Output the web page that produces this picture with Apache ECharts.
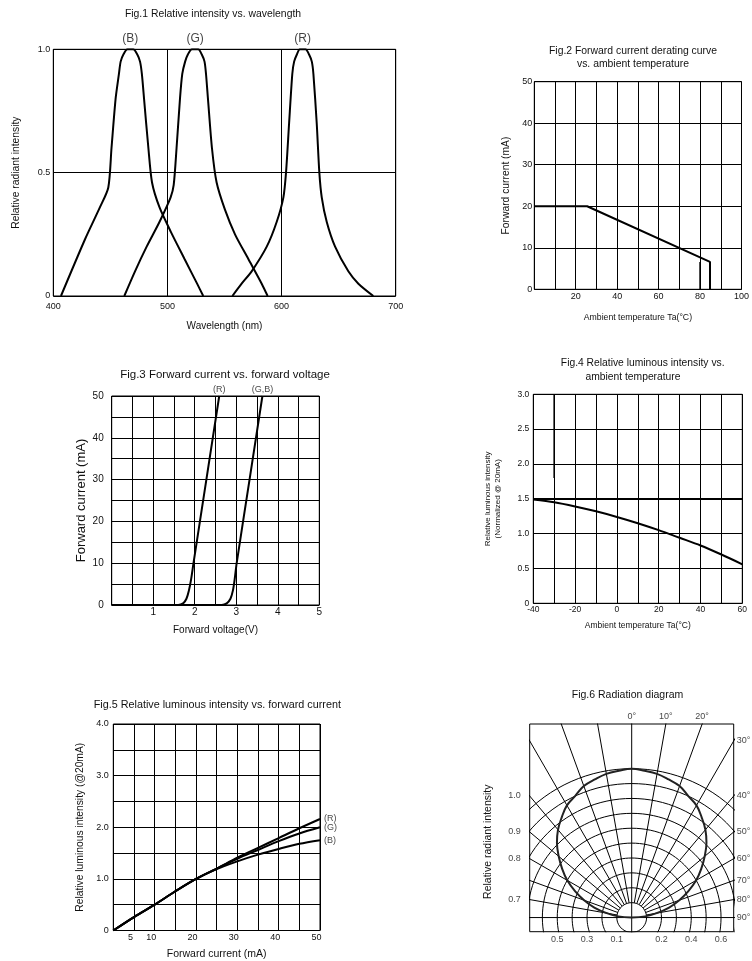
<!DOCTYPE html>
<html>
<head>
<meta charset="utf-8">
<title>LED characteristic curves</title>
<script src="https://cdn.jsdelivr.net/npm/echarts@6/dist/echarts.min.js"></script>
<style>
    html, body { margin: 0; padding: 0; background: #fff; }
    #main { width: 752px; height: 961px; }
</style>
</head>
<body>
<div id="main"></div>
<script>
    var FONT = '"Liberation Sans", Arial, Helvetica, sans-serif';
    var INK = '#111';

    // Fig.1 relative intensity vs wavelength  [nm, rel]
    var f1XTicks = ['400', '500', '600', '700'];
    var f1YTicks = ['0', '0.5', '1.0'];
    var f1Blue = [[406.7,0],[427.8,0.23],[440.9,0.36],[448.2,0.44],[451,0.6],[454.6,0.8],[457.5,0.9],[459,0.95],
        [461.5,0.98],[465,1.0],[470,1.0],[473.5,0.98],[476,0.95],[477.6,0.9],[479.5,0.8],[483.3,0.6],[486.5,0.46],
        [493,0.36],[503,0.26],[515,0.15],[526,0.05],[531.4,0]];
    var f1Green = [[462.2,0],[471.6,0.1],[481.8,0.2],[493,0.3],[502.8,0.4],[505.5,0.45],[508,0.6],[511,0.8],
        [513,0.9],[515.5,0.95],[518,0.98],[521.5,1.0],[527,1.0],[530,0.98],[532.5,0.95],[533.8,0.9],[535.5,0.8],[539,0.6],
        [543.1,0.46],[550.4,0.35],[559.2,0.25],[570.9,0.15],[582.6,0.05],[587.8,0]];
    var f1Red = [[556.9,0],[565,0.05],[573.8,0.1],[587,0.2],[595.7,0.3],[601.6,0.4],[603.9,0.5],[606.6,0.7],
        [609.4,0.9],[611,0.95],[613.5,0.98],[616,1.0],[621,1.0],[624,0.98],[626.5,0.95],[627.9,0.9],[630.8,0.7],
        [633.1,0.5],[635.2,0.4],[639.6,0.3],[646.9,0.2],[658.5,0.1],[667.3,0.05],[680.4,0]];
    var f1Names = ['(B)', '(G)', '(R)'];

    // Fig.2 derating  [degC, mA]
    var f2XTicks = ['20', '40', '60', '80', '100'];
    var f2YTicks = ['0', '10', '20', '30', '40', '50'];
    var f2Derating = [[0,20],[25.5,20],[84.8,6.6],[84.8,0]];
    var f2Limit = [[80,0],[80,6.6]];

    // Fig.3 forward current vs voltage  [V, mA]
    var f3XTicks = ['1', '2', '3', '4', '5'];
    var f3YTicks = ['0', '10', '20', '30', '40', '50'];
    var f3Red = [[0,0],[1.6,0],[1.72,0.4],[1.8,1.5],[1.86,3.5],[1.91,6],[1.97,10],[2.28,30],[2.59,50]];
    var f3GB = [[0,0],[2.65,0],[2.77,0.4],[2.86,1.5],[2.92,3.5],[2.96,6],[3.01,10],[3.32,30],[3.63,50]];
    var f3Names = ['(R)', '(G,B)'];

    // Fig.4 relative luminous intensity vs temperature
    var f4XTicks = ['-40', '-20', '0', '20', '40', '60'];
    var f4YTicks = ['0', '0.5', '1.0', '1.5', '2.0', '2.5', '3.0'];
    var f4Curve = [[-40,1.49],[-30,1.45],[-20,1.39],[-10,1.32],[0,1.24],[10,1.15],[20,1.05],[30,0.94],[40,0.83],[50,0.70],[60,0.56]];
    var f4Level = [[-40,1.5],[60,1.5]];
    var f4Marker = [[-30,1.8],[-30,3.0]];

    // Fig.5 relative luminous intensity vs forward current
    var f5XTicks = ['5', '10', '20', '30', '40', '50'];
    var f5YTicks = ['0', '1.0', '2.0', '3.0', '4.0'];
    var f5Current = [0, 5, 10, 15, 20, 25, 30, 35, 40, 45, 50];
    var f5Red   = [0, 0.26, 0.5, 0.76, 1.0, 1.2, 1.41, 1.6, 1.79, 1.98, 2.16];
    var f5Green = [0, 0.26, 0.5, 0.76, 1.0, 1.2, 1.39, 1.56, 1.73, 1.88, 2.0];
    var f5Blue  = [0, 0.26, 0.5, 0.76, 1.0, 1.19, 1.34, 1.47, 1.58, 1.68, 1.75];
    var f5Names = ['(R)', '(G)', '(B)'];

    // Fig.6 radiation diagram
    var f6Angles = [0, 5, 10, 15, 20, 25, 30, 35, 40, 45, 50, 55, 60, 65, 70, 75, 80, 85, 90];
    var f6Intensity = [1.0, 0.99, 0.98, 0.96, 0.94, 0.9, 0.87, 0.82, 0.77, 0.71, 0.64, 0.57, 0.5, 0.42, 0.34, 0.26, 0.17, 0.09, 0];
    var f6Rings = [0.1, 0.2, 0.3, 0.4, 0.5, 0.6, 0.7, 0.8, 0.9, 1.0];
    var f6Spokes = [-90, -80, -70, -60, -50, -40, -30, -20, -10, 0, 10, 20, 30, 40, 50, 60, 70, 80, 90];
    var f6AngleTicks = ['0°', '10°', '20°', '30°', '40°', '50°', '60°', '70°', '80°', '90°'];
    var f6AngleTickDeg = [0, 10, 20, 30, 40, 50, 60, 70, 80, 90];
    var f6LeftTicks = ['1.0', '0.9', '0.8', '0.7'];
    var f6LeftTickDeg = [-40, -50, -60, -80];
    var f6BottomTicks = ['0.5', '0.3', '0.1', '0.2', '0.4', '0.6'];

    // fig.6 box in intensity units
    var X6 = 0.685, Y6MIN = -0.095, Y6MAX = 1.3;

    function pairs(xs, ys) {
        return xs.map(function (x, i) { return [x, ys[i]]; });
    }
    function peak(d) {
        return d.reduce(function (a, b) { return b[1] > a[1] ? b : a; });
    }
    function mid(d) {
        // centre of the flat top
        var top = d.filter(function (p) { return p[1] === peak(d)[1]; });
        return [(top[0][0] + top[top.length - 1][0]) / 2, top[0][1]];
    }
    function last(d) { return d[d.length - 1]; }
    function toXY(deg, r) {
        var a = deg * Math.PI / 180;
        return [r * Math.sin(a), r * Math.cos(a)];
    }
    function edgePoint(deg) {
        var a = deg * Math.PI / 180, s = Math.sin(a), c = Math.cos(a), t = Infinity;
        if (c > 1e-9) t = Math.min(t, Y6MAX / c);
        if (Math.abs(s) > 1e-9) t = Math.min(t, X6 / Math.abs(s));
        return [t * s, t * c];
    }

    function pick(ticks) {
        return function (v) {
            for (var i = 0; i < ticks.length; i++) {
                if (Math.abs(parseFloat(ticks[i]) - v) < 1e-6) return ticks[i];
            }
            return '';
        };
    }

    function axis(gi, min, max, step, ticks, o) {
        return {
            type: 'value', gridIndex: gi, min: min, max: max, interval: step,
            axisLine: {show: false}, axisTick: {show: false},
            splitLine: {show: true, lineStyle: {color: '#000', width: 1}},
            axisLabel: {
                margin: o.margin, fontSize: o.size, color: INK, fontFamily: FONT,
                formatter: pick(ticks), padding: o.pad || 0
            },
            name: o.name, nameLocation: 'middle', nameGap: o.gap,
            nameTextStyle: {fontSize: o.nameSize, color: INK, fontFamily: FONT, lineHeight: o.lh || o.nameSize + 1}
        };
    }

    function line(gi, data, width, extra) {
        var s = {
            type: 'line', xAxisIndex: gi, yAxisIndex: gi, data: data,
            showSymbol: false, symbol: 'none', silent: true, z: 3,
            lineStyle: {color: '#000', width: width}
        };
        for (var k in extra) s[k] = extra[k];
        return s;
    }

    function labels(gi, points, texts, pos, dist, size) {
        return {
            type: 'scatter', xAxisIndex: gi, yAxisIndex: gi, symbolSize: 0, silent: true, clip: false, z: 5,
            data: points.map(function (p, i) {
                var position = typeof pos === 'function' ? pos(p) : pos;
                return {value: p, label: {show: true, formatter: texts[i], position: position, distance: dist}};
            }),
            label: {fontSize: size, color: INK, fontFamily: FONT}
        };
    }

    var gridBox = {show: true, borderColor: '#000', borderWidth: 1, backgroundColor: 'transparent', containLabel: false};
    function grid(l, t, w, h) {
        return Object.assign({left: l, top: t, width: w, height: h}, gridBox);
    }

    function title(text, x, y, size) {
        return {
            text: text, left: x, top: y, padding: 0, textAlign: 'center', textVerticalAlign: 'middle',
            textStyle: {fontSize: size, fontWeight: 'normal', color: INK, fontFamily: FONT, lineHeight: 13}
        };
    }

    // ---- fig.6 construction lines
    var f6Series = [];
    f6Rings.forEach(function (v) {
        var pts = [];
        for (var d = 0; d <= 360; d += 3) pts.push(toXY(d, v));
        f6Series.push(line(5, pts, 1, {z: 2}));
    });
    f6Spokes.forEach(function (deg) {
        var r0 = deg === 0 ? -0.2 : (Math.abs(deg) === 90 ? 0 : f6Rings[0]);
        f6Series.push(line(5, [toXY(deg, r0), toXY(deg, 2)], 1, {z: 2}));
    });
    var f6Pattern = [];
    for (var i = f6Angles.length - 1; i > 0; i--) f6Pattern.push(toXY(-f6Angles[i], f6Intensity[i]));
    for (var j = 0; j < f6Angles.length; j++) f6Pattern.push(toXY(f6Angles[j], f6Intensity[j]));
    f6Series.push(line(5, f6Pattern, 2, {smooth: 0.4, z: 4, lineStyle: {color: '#222', width: 2}}));

    var edgePos = function (p) {
        if (Math.abs(p[1] - Y6MAX) < 1e-6) return 'top';
        return p[0] > 0 ? 'right' : 'left';
    };
    f6Series.push(labels(5, f6AngleTickDeg.map(edgePoint), f6AngleTicks, edgePos, 3, 9));
    f6Series.push(labels(5, f6LeftTickDeg.map(edgePoint), f6LeftTicks, 'left', 9, 9));
    f6Series.push(labels(5, f6BottomTicks.map(function (t) {
        var v = parseFloat(t);
        var side = Math.round(v * 10) % 2 === 1 ? -1 : 1;
        return [side * v, Y6MIN];
    }), f6BottomTicks, 'bottom', 3, 9));

    var f5R = pairs(f5Current, f5Red), f5G = pairs(f5Current, f5Green), f5B = pairs(f5Current, f5Blue);

    var option = {
        backgroundColor: '#fff',
        animation: false,
        textStyle: {fontFamily: FONT},
        title: [
            title('Fig.1 Relative intensity vs. wavelength', 213, 14, 10.4),
            title('Fig.2 Forward current derating curve\nvs. ambient temperature', 633, 57.7, 10.4),
            title('Fig.3 Forward current vs. forward voltage', 225, 375, 11.5),
            title('Fig.4 Relative luminous intensity vs.', 642.7, 363.3, 10.3),
            title('ambient temperature', 633, 376.7, 10.3),
            title('Fig.5 Relative luminous intensity vs. forward current', 217.3, 705, 10.8),
            title('Fig.6 Radiation diagram', 627.5, 695, 10.5)
        ],
        grid: [
            grid(53.3, 49.3, 342.4, 246.7),
            grid(534.3, 81.7, 208, 207.6),
            grid(111.7, 396, 207.6, 209),
            grid(533.3, 394.3, 209, 209),
            grid(113.3, 724, 206.7, 207.7),
            grid(529.7, 724, 204, 207.7)
        ],
        xAxis: [
            axis(0, 400, 700, 100, f1XTicks, {margin: 6, size: 9, name: 'Wavelength (nm)', gap: 25, nameSize: 10}),
            axis(1, 0, 100, 10, f2XTicks, {margin: 3, size: 9, name: 'Ambient temperature Ta(°C)', gap: 23, nameSize: 8.7}),
            axis(2, 0, 5, 0.5, f3XTicks, {margin: 2, size: 10, name: 'Forward voltage(V)', gap: 20, nameSize: 10}),
            axis(3, -40, 60, 10, f4XTicks, {margin: 2, size: 8.5, name: 'Ambient temperature Ta(°C)', gap: 18, nameSize: 8.5}),
            axis(4, 0, 50, 5, f5XTicks, {margin: 3, size: 9, pad: [0, 7, 0, 0], name: 'Forward current (mA)', gap: 18, nameSize: 10.5}),
            {type: 'value', gridIndex: 5, min: -X6, max: X6, show: false}
        ],
        yAxis: [
            axis(0, 0, 1, 0.5, f1YTicks, {margin: 3, size: 9, name: 'Relative radiant intensity', gap: 31, nameSize: 10.3}),
            axis(1, 0, 50, 10, f2YTicks, {margin: 2, size: 9, name: 'Forward current (mA)', gap: 22, nameSize: 10.3}),
            axis(2, 0, 50, 5, f3YTicks, {margin: 8, size: 10, name: 'Forward current (mA)', gap: 22, nameSize: 13}),
            axis(3, 0, 3, 0.5, f4YTicks, {margin: 4, size: 8.5, name: 'Relative luminous intensity\n(Normalized @ 20mA)', gap: 31, nameSize: 8, lh: 10}),
            axis(4, 0, 4, 0.5, f5YTicks, {margin: 4.5, size: 9, name: 'Relative luminous intensity (@20mA)', gap: 27, nameSize: 10.3}),
            {type: 'value', gridIndex: 5, min: Y6MIN, max: Y6MAX, show: false}
        ],
        graphic: [
            {
                type: 'text', x: 488, y: 841.7, rotation: Math.PI / 2, silent: true,
                style: {text: 'Relative radiant intensity', font: '10.5px ' + FONT, fill: INK, align: 'center', verticalAlign: 'middle'}
            }
        ],
        series: [
            line(0, f1Blue, 2, {smooth: 0.25}),
            line(0, f1Green, 2, {smooth: 0.25}),
            line(0, f1Red, 2, {smooth: 0.25}),
            labels(0, [mid(f1Blue), mid(f1Green), mid(f1Red)], f1Names, 'top', 5, 12),

            line(1, f2Derating, 2),
            line(1, f2Limit, 1.5),

            line(2, f3Red, 2, {smooth: 0.3}),
            line(2, f3GB, 2, {smooth: 0.3}),
            labels(2, [last(f3Red), last(f3GB)], f3Names, 'top', 2, 9),

            line(3, f4Curve, 2, {smooth: 0.3}),
            line(3, f4Level, 1.8),
            line(3, f4Marker, 1.6),

            line(4, f5R, 2, {smooth: 0.3}),
            line(4, f5G, 2, {smooth: 0.3}),
            line(4, f5B, 2, {smooth: 0.3}),
            labels(4, [last(f5R), last(f5G), last(f5B)], f5Names, 'right', 4, 9)
        ].concat(f6Series)
    };

    var chart = echarts.init(document.getElementById('main'), null, {renderer: 'canvas'});
    chart.setOption(option);
</script>
</body>
</html>
